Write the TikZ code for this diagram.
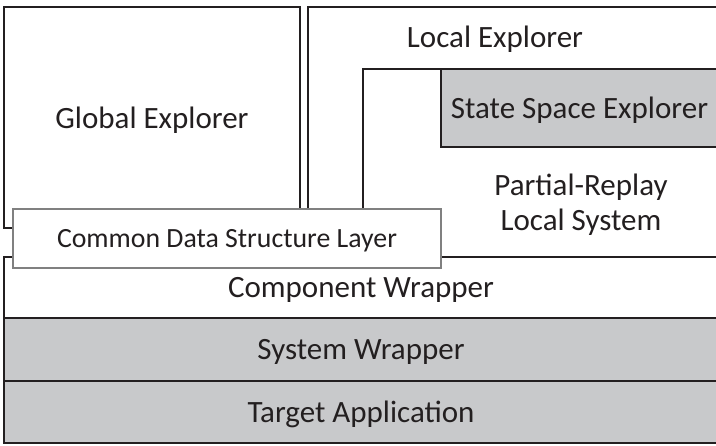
\documentclass[tikz,border=0pt]{standalone}
\usepackage{fontspec}
\setmainfont{Carlito}
\usetikzlibrary{positioning}

\definecolor{boxgray}{RGB}{200,201,203}
\definecolor{inkblack}{RGB}{35,31,32}

\tikzset{
    layer/.style={draw=inkblack, line width=1.4pt, anchor=north west, inner sep=0pt, outer sep=0pt,
        text=inkblack, text depth=0pt, font=\fontsize{15.5}{17.5}\selectfont},
    graylayer/.style={layer, fill=boxgray},
    caption/.style={text=inkblack, align=center, inner sep=0pt, font=\fontsize{15.5}{17.5}\selectfont}
}

\begin{document}
\begin{tikzpicture}[x=0.5pt, y=-0.5pt]
    \path[use as bounding box, clip] (0,0) rectangle (716,445);

    % Explorers on top
    \node[layer, minimum width=148pt, minimum height=110.5pt] (global) at (4,7) {Global Explorer};
    \node[layer, minimum width=205pt, minimum height=125pt] (local) at (308,7) {};
    \node[layer, minimum width=177.5pt, minimum height=94pt] (replay) at (363,69) {};
    \node[graylayer, minimum width=138.5pt, minimum height=39pt] (statespace) at (441,69) {State Space Explorer};
    \node[caption] (localtxt) at (495,39) {Local Explorer};
    \node[caption] (replaytxt) at (581,205) {Partial-Replay\\Local System};

    % Wrapper stack
    \node[layer, minimum width=357pt, minimum height=30.5pt] (component) at (4,257) {Component Wrapper};
    \node[graylayer, minimum width=357pt, minimum height=31.5pt, below=0pt of component] (syswrap) {System Wrapper};
    \node[graylayer, minimum width=357pt, minimum height=31pt, below=0pt of syswrap] (target) {Target Application};

    % Shared layer overlapping both
    \node[layer, draw=gray, line width=0.8pt, fill=white, minimum width=214pt, minimum height=29.5pt,
        font=\fontsize{13.9}{16}\selectfont] (cds) at (13,209) {Common Data Structure Layer};
\end{tikzpicture}
\end{document}
